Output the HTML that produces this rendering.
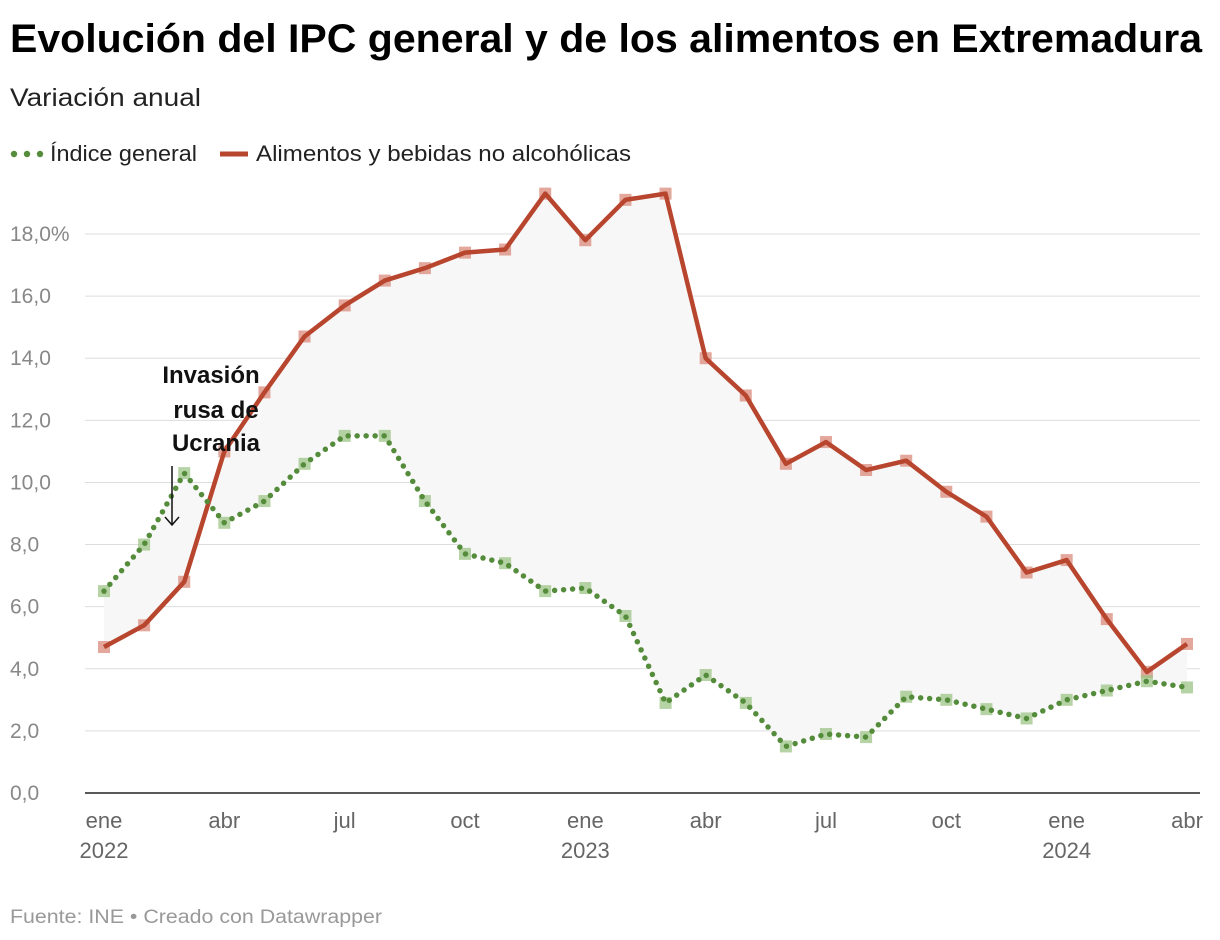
<!DOCTYPE html>
<html><head><meta charset="utf-8"><style>
body{margin:0;background:#fff;font-family:"Liberation Sans",Arial,sans-serif;}
#wrap{position:relative;width:1220px;height:940px;overflow:hidden;}
</style></head><body>
<div id="wrap">
<svg id="svg" width="1220" height="940" xmlns="http://www.w3.org/2000/svg">
<text x="10" y="52" font-size="40" font-weight="bold" fill="#000" textLength="1192" lengthAdjust="spacingAndGlyphs">Evolución del IPC general y de los alimentos en Extremadura</text>
<text x="10" y="106" font-size="25" fill="#222" textLength="191" lengthAdjust="spacingAndGlyphs">Variación anual</text>
<g>
<g>
<circle cx="14" cy="154" r="3.2" fill="#548c3b"/><circle cx="27" cy="154" r="3.2" fill="#548c3b"/><circle cx="40" cy="154" r="3.2" fill="#548c3b"/>
<text x="50" y="161" font-size="22" fill="#222" textLength="147" lengthAdjust="spacingAndGlyphs">Índice general</text></g>
<g>
<line x1="220" y1="154" x2="248" y2="154" stroke="#b8452e" stroke-width="5"/>
<text x="256" y="161" font-size="22" fill="#222" textLength="375" lengthAdjust="spacingAndGlyphs">Alimentos y bebidas no alcohólicas</text></g>
</g>
<g id="grid"></g>
<g id="fill"></g>
<g id="series"></g>
<g id="xaxis"></g>
<g>
<text x="211" y="383" font-size="24" font-weight="bold" text-anchor="middle" fill="#111">Invasión</text>
<text x="216" y="418" font-size="24" font-weight="bold" text-anchor="middle" fill="#111">rusa de</text>
<text x="216" y="451" font-size="24" font-weight="bold" text-anchor="middle" fill="#111">Ucrania</text>
<line x1="172" y1="466" x2="172" y2="525" stroke="#111" stroke-width="1.5"/>
<polyline points="165,517 172,525 179,517" fill="none" stroke="#111" stroke-width="1.5"/>
</g>
<text x="10" y="923" font-size="19" fill="#999" textLength="372" lengthAdjust="spacingAndGlyphs">Fuente: INE • Creado con Datawrapper</text>
</svg>
</div>
<script>
const months = ["ene","feb","mar","abr","may","jun","jul","ago","sep","oct","nov","dic","ene","feb","mar","abr","may","jun","jul","ago","sep","oct","nov","dic","ene","feb","mar","abr"];
const years = {0:"2022",12:"2023",24:"2024"};
const foodValues = [4.7,5.4,6.8,11.0,12.9,14.7,15.7,16.5,16.9,17.4,17.5,19.3,17.8,19.1,19.3,14.0,12.8,10.6,11.3,10.4,10.7,9.7,8.9,7.1,7.5,5.6,3.9,4.8];
const generalValues = [6.5,8.0,10.3,8.7,9.4,10.6,11.5,11.5,9.4,7.7,7.4,6.5,6.6,5.7,2.9,3.8,2.9,1.5,1.9,1.8,3.1,3.0,2.7,2.4,3.0,3.3,3.6,3.4];
const yTicks = [0,2,4,6,8,10,12,14,16,18];
const xLabelIdx = [0,3,6,9,12,15,18,21,24,27];

const NS="http://www.w3.org/2000/svg";
const x0=104,x1=1187,y0=793,y18=234;
const xs=i=>x0+(x1-x0)*i/(months.length-1);
const ys=v=>y0-(y0-y18)*v/18;
function mk(tag,attrs,parent){const e=document.createElementNS(NS,tag);for(const k in attrs)e.setAttribute(k,attrs[k]);parent.appendChild(e);return e;}
const grid=document.getElementById('grid'),fill=document.getElementById('fill'),series=document.getElementById('series'),xaxis=document.getElementById('xaxis');
yTicks.forEach(t=>{
  if(t>0){const l=mk('line',{x1:85,x2:1200,y1:ys(t),y2:ys(t),stroke:'#ddd','stroke-width':1},grid);
  
  }
  const tx=mk('text',{x:10,y:ys(t)+7,'font-size':21,fill:'#888'},grid);
  tx.textContent=t.toFixed(1).replace('.',',')+(t===18?'%':'');
  
  
});
const ax=mk('line',{x1:85,x2:1200,y1:y0,y2:y0,stroke:'#222','stroke-width':1.5},xaxis);


xLabelIdx.forEach(i=>{
  const t=mk('text',{x:xs(i),y:828,'font-size':22,fill:'#666','text-anchor':'middle'},xaxis);
  t.textContent=months[i];
  
  
  if(years[i]){const y=mk('text',{x:xs(i),y:858,'font-size':22,fill:'#666','text-anchor':'middle'},xaxis);
  y.textContent=years[i];
  
  }
});
let pts=foodValues.map((v,i)=>xs(i)+','+ys(v));
for(let i=generalValues.length-1;i>=0;i--)pts.push(xs(i)+','+ys(generalValues[i]));
const poly=mk('polygon',{points:pts.join(' '),fill:'#f7f7f7'},fill);


foodValues.forEach((v,i)=>{const r=mk('rect',{x:xs(i)-6,y:ys(v)-6,width:12,height:12,fill:'#d98a7a','fill-opacity':0.75},series);

});
generalValues.forEach((v,i)=>{const r=mk('rect',{x:xs(i)-6,y:ys(v)-6,width:12,height:12,fill:'#9cc486','fill-opacity':0.75},series);

});
const fl=mk('polyline',{points:foodValues.map((v,i)=>xs(i)+','+ys(v)).join(' '),fill:'none',stroke:'#b8452e','stroke-width':4.5,'stroke-linejoin':'round'},series);


const gl=mk('polyline',{points:generalValues.map((v,i)=>xs(i)+','+ys(v)).join(' '),fill:'none',stroke:'#548c3b','stroke-width':5.5,'stroke-dasharray':'0 9','stroke-linecap':'round','stroke-linejoin':'round'},series);


</script>
</body></html>
